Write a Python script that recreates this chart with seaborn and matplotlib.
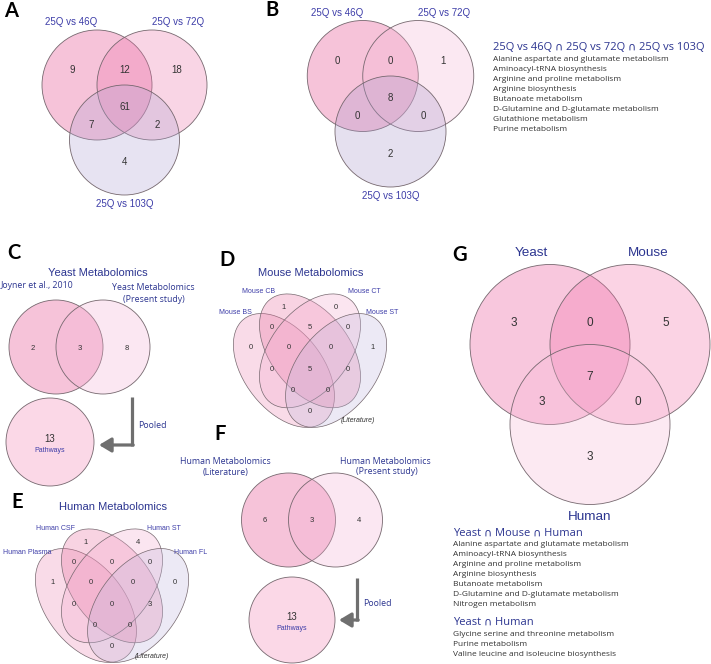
import matplotlib
matplotlib.use("Agg")
import matplotlib.pyplot as plt
from matplotlib.patches import Circle, Ellipse
from matplotlib.transforms import Affine2D
from matplotlib.colors import to_rgba
import seaborn as sns

sns.set_theme(style="white")
ARIAL = ['Liberation Sans', 'DejaVu Sans']
OPEN = ['Open Sans', 'DejaVu Sans']
plt.rcParams['font.family'] = ARIAL

NAVY = '#2c3590'
BLUE = '#3d3da8'
NUM = '#333333'
EDGE = '#76686f'
ARROW = '#6f6f6f'
TXT = '#333333'

# ---------------- data ----------------
a_labels = ["25Q vs 46Q", "25Q vs 72Q", "25Q vs 103Q"]
a_counts = [9, 12, 18, 7, 61, 2, 4]          # 1, 12, 2, 13, 123, 23, 3
b_labels = ["25Q vs 46Q", "25Q vs 72Q", "25Q vs 103Q"]
b_counts = [0, 0, 1, 0, 8, 0, 2]
b_list_title = "25Q vs 46Q \u2229 25Q vs 72Q \u2229 25Q vs 103Q"
b_pathways = ["Alanine aspartate and glutamate metabolism",
              "Aminoacyl-tRNA biosynthesis",
              "Arginine and proline metabolism",
              "Arginine biosynthesis",
              "Butanoate metabolism",
              "D-Glutamine and D-glutamate metabolism",
              "Glutathione metabolism",
              "Purine metabolism"]
c_title = "Yeast Metabolomics"
c_labels = [["Joyner et al., 2010"], ["Yeast Metabolomics", "(Present study)"]]
c_counts = [2, 3, 8]
c_pooled = 13
d_title = "Mouse Metabolomics"
d_labels = ["Mouse BS", "Mouse CB", "Mouse CT", "Mouse ST"]
regions4 = ["B", "C", "AB", "BC", "CD", "A", "ABC", "BCD", "D",
            "AC", "ABCD", "BD", "ACD", "ABD", "AD"]
d_counts = [1, 0, 0, 5, 0, 0, 0, 0, 1, 0, 5, 0, 0, 0, 0]
e_title = "Human Metabolomics"
e_labels = ["Human Plasma", "Human CSF", "Human ST", "Human FL"]
e_counts = [1, 4, 0, 0, 0, 1, 0, 0, 0, 0, 0, 3, 0, 0, 0]
f_labels = [["Human Metabolomics", "(Literature)"], ["Human Metabolomics", "(Present study)"]]
f_counts = [6, 3, 4]
f_pooled = 13
g_labels = ["Yeast", "Mouse", "Human"]
g_counts = [3, 0, 5, 3, 7, 0, 3]
g_title1 = "Yeast \u2229 Mouse \u2229 Human"
g_list1 = ["Alanine aspartate and glutamate metabolism",
           "Aminoacyl-tRNA biosynthesis",
           "Arginine and proline metabolism",
           "Arginine biosynthesis",
           "Butanoate metabolism",
           "D-Glutamine and D-glutamate metabolism",
           "Nitrogen metabolism"]
g_title2 = "Yeast \u2229 Human"
g_list2 = ["Glycine serine and threonine metabolism",
           "Purine metabolism",
           "Valine leucine and isoleucine biosynthesis"]

# ---------------- figure ----------------
fig = plt.figure(figsize=(7.11, 6.64), dpi=100)
ax = fig.add_axes([0, 0, 1, 1])
ax.set_xlim(0, 711)
ax.set_ylim(664, 0)
ax.axis('off')

ALPHA = 0.3


def fc(col, a=ALPHA):
    r, g, b, _ = to_rgba(col)
    return (r, g, b, a)


REL3 = [(-0.95, -0.27), (0, -0.27), (0.95, -0.27), (-0.6, 0.72),
        (0, 0.40), (0.6, 0.72), (0, 1.40)]


def venn3(cx, cy, r, colors, counts, labels, lab_dx, fs_num, fs_lab, lab_col, lab_font):
    centers = [(cx - r / 2, cy), (cx + r / 2, cy), (cx, cy + r)]
    for (x, y), col in zip(centers, colors):
        ax.add_patch(Circle((x, y), r, facecolor=fc(col), edgecolor=EDGE, lw=0.6))
    for (dx, dy), n in zip(REL3, counts):
        ax.text(cx + dx * r, cy + dy * r, str(n), ha='center', va='center',
                fontsize=fs_num, color=NUM, family=ARIAL)
    lpos = [(cx - lab_dx * r, cy - 1.14 * r), (cx + lab_dx * r, cy - 1.14 * r),
            (cx, cy + 2.16 * r)]
    for (x, y), s in zip(lpos, labels):
        ax.text(x, y, s, ha='center', va='center', fontsize=fs_lab,
                color=lab_col, family=lab_font)


def venn2(cx, cy, r, colors, counts, fs_num):
    for x, col in zip([cx - r / 2, cx + r / 2], colors):
        ax.add_patch(Circle((x, cy), r, facecolor=fc(col), edgecolor=EDGE, lw=0.6))
    for dx, n in zip([-1, 0, 1], counts):
        ax.text(cx + dx * r, cy + 1, str(n), ha='center', va='center',
                fontsize=fs_num, color=NUM, family=ARIAL)


POS4 = {"B": (0.35, 0.79), "C": (0.65, 0.79),
        "AB": (0.28, 0.69), "BC": (0.50, 0.69), "CD": (0.72, 0.69),
        "A": (0.16, 0.585), "ABC": (0.38, 0.585), "BCD": (0.62, 0.585), "D": (0.86, 0.585),
        "AC": (0.28, 0.475), "ABCD": (0.50, 0.475), "BD": (0.72, 0.475),
        "ACD": (0.40, 0.37), "ABD": (0.60, 0.37), "AD": (0.50, 0.262)}
ELL4 = [((0.35, 0.47), 135), ((0.50, 0.57), 135), ((0.50, 0.57), 45), ((0.65, 0.47), 45)]


def venn4(cx, top, colors, counts, labels, lab_pos, lit_pos):
    T = Affine2D().translate(-0.5, -0.855).scale(174, -196).translate(cx, top) + ax.transData
    for (c, ang), col in zip(ELL4, colors):
        ax.add_patch(Ellipse(c, 0.70, 0.43, angle=ang, facecolor=fc(col),
                             edgecolor=EDGE, lw=0.5, transform=T))
    for reg, n in zip(regions4, counts):
        u, v = POS4[reg]
        ax.text(u, v, str(n), transform=T, ha='center', va='center',
                fontsize=5.5, color=NUM, family=ARIAL)
    for (u, v), s in zip(lab_pos, labels):
        ax.text(u, v, s, transform=T, ha='center', va='center',
                fontsize=5, color=BLUE, family=ARIAL)
    ax.text(lit_pos[0], lit_pos[1], "(Literature)", transform=T, ha='center',
            va='center', fontsize=5, style='italic', color=TXT, family=ARIAL)


def pooled(cx, cy, r, n, vx, vy0, vy1, tipx, ptx, pty):
    ax.add_patch(Circle((cx, cy), r, facecolor='#fbd8e7', edgecolor=EDGE, lw=0.6))
    ax.text(cx, cy - 3, str(n), ha='center', va='center', fontsize=7, color=NUM)
    ax.text(cx, cy + 9, "Pathways", ha='center', va='center', fontsize=5, color=BLUE)
    ax.plot([vx, vx], [vy0, vy1 + 1.2], color=ARROW, lw=2.3, solid_capstyle='butt')
    ax.annotate('', xy=(tipx, vy1), xytext=(vx + 1.2, vy1),
                arrowprops=dict(arrowstyle='-|>,head_length=0.6,head_width=0.36',
                                color=ARROW, lw=2.3, shrinkA=0, shrinkB=0))
    ax.text(ptx, pty, "Pooled", ha='center', va='center', fontsize=6.3,
            color=NAVY, family=OPEN)


def panel_letter(x, y, s):
    ax.text(x, y, s, ha='center', va='center', fontsize=14.5, fontweight='bold',
            color='black', family=['Lato', 'DejaVu Sans'])


def text_list(x, y_title, title, items, y0, step=10):
    ax.text(x, y_title, title, ha='left', va='center', fontsize=8, color=NAVY, family=OPEN)
    for i, s in enumerate(items):
        ax.text(x, y0 + i * step, s, ha='left', va='center', fontsize=6,
                color=TXT, family=OPEN)


# ---- A ----
panel_letter(11, 11, "A")
venn3(124.5, 85, 55, ['#e43a84', '#ee76ac', '#b2a5d4'], a_counts, a_labels,
      0.97, 7, 7, BLUE, ARIAL)

# ---- B ----
panel_letter(272, 10, "B")
venn3(390.5, 76, 55.5, ['#e43a84', '#f5b6d4', '#ac9bcd'], b_counts, b_labels,
      0.97, 7, 7, BLUE, ARIAL)
text_list(493, 47.7, b_list_title, b_pathways, 59.3)

# ---- C ----
panel_letter(14, 253, "C")
ax.text(98, 273, c_title, ha='center', va='center', fontsize=8, color=NAVY)
ax.text(37, 286, c_labels[0][0], ha='center', va='center', fontsize=6.3, color=NAVY, family=OPEN)
ax.text(153, 287, c_labels[1][0], ha='center', va='center', fontsize=6.3, color=NAVY, family=OPEN)
ax.text(154, 299, c_labels[1][1], ha='center', va='center', fontsize=6.3, color=NAVY, family=OPEN)
venn2(79.5, 347, 47, ['#e43a84', '#f5b2d4'], c_counts, 5.5)
pooled(50, 442, 44, c_pooled, 132, 397, 445, 99, 152, 426)

# ---- D ----
panel_letter(227, 260, "D")
ax.text(311, 273, d_title, ha='center', va='center', fontsize=8, color=NAVY)
venn4(310, 295, ['#ee8ab3', '#e8709f', '#f5acd0', '#c3b9de'], d_counts, d_labels,
      [(0.074, 0.764), (0.205, 0.875), (0.813, 0.875), (0.915, 0.764)], (0.773, 0.214))

# ---- E ----
panel_letter(17, 502, "E")
ax.text(113, 507, e_title, ha='center', va='center', fontsize=8, color=NAVY)
venn4(112, 530, ['#ee8ab3', '#e8709f', '#f5acd0', '#c3b9de'], e_counts, e_labels,
      [(0.011, 0.739), (0.176, 0.865), (0.798, 0.865), (0.949, 0.739)], (0.727, 0.208))

# ---- F ----
panel_letter(220, 434, "F")
ax.text(225, 461, f_labels[0][0], ha='center', va='center', fontsize=6.3, color=NAVY, family=OPEN)
ax.text(226, 472, f_labels[0][1], ha='center', va='center', fontsize=6.3, color=NAVY, family=OPEN)
ax.text(385, 461, f_labels[1][0], ha='center', va='center', fontsize=6.3, color=NAVY, family=OPEN)
ax.text(387, 472, f_labels[1][1], ha='center', va='center', fontsize=6.3, color=NAVY, family=OPEN)
venn2(312, 520, 47, ['#e43a84', '#f5b2d4'], f_counts, 5.5)
pooled(292, 620, 43, f_pooled, 357, 578, 620, 339, 377, 604)

# ---- G ----
panel_letter(460, 255, "G")
venn3(590, 344.5, 80, ['#eb4891', '#f270a8', '#f8b9d7'], g_counts, g_labels,
      0.73, 8.5, 9.7, NAVY, ARIAL)
text_list(453, 533, g_title1, g_list1, 545)
text_list(453, 622, g_title2, g_list2, 634)

fig.savefig("out.png", dpi=100)
